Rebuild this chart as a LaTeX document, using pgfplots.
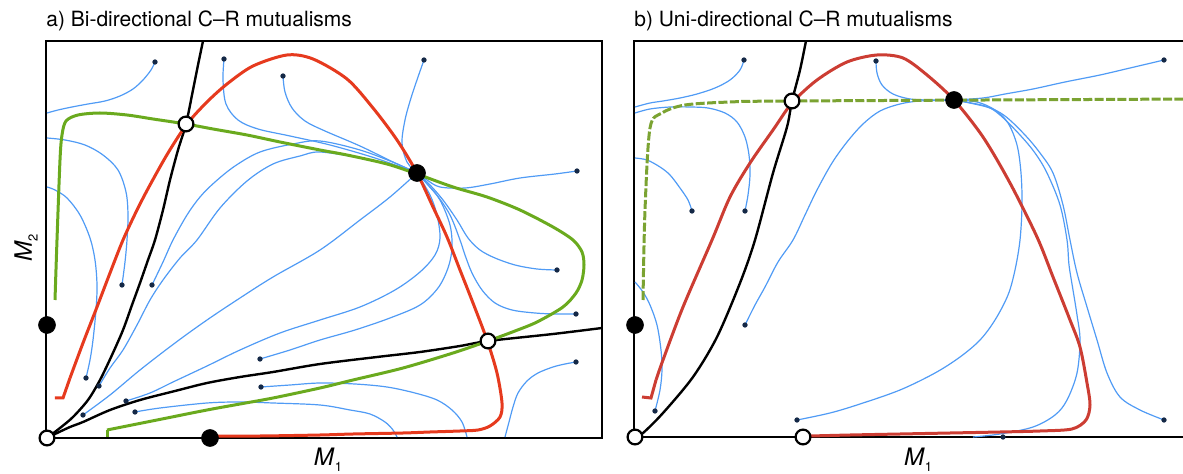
\documentclass[border=0pt]{standalone}
\usepackage{fontspec}
\setmainfont{TeX Gyre Heros}
\usepackage{pgfplots}
\pgfplotsset{compat=1.18}

\definecolor{redA}{HTML}{E63A1E}
\definecolor{redB}{HTML}{CC3D33}
\definecolor{greenA}{HTML}{6AAA1E}
\definecolor{greenB}{HTML}{7BA332}
\definecolor{trajblue}{HTML}{509BF5}
\definecolor{dotnavy}{HTML}{142846}

% both panels use image pixel coordinates (y downwards)
\pgfplotsset{
  phase/.style={scale only axis, clip=false, y dir=reverse,
    xtick=\empty, ytick=\empty, anchor=center,
    axis line style={line width=1.2pt}},
  traj/.style={trajblue, line width=0.6pt, smooth, tension=0.55, no markers},
  nullc/.style={line width=1.5pt, smooth, tension=0.5, no markers},
  sep/.style={black, line width=1.2pt, smooth, tension=0.5, no markers},
  start/.style={only marks, mark=*, mark size=1.1pt, dotnavy},
  stable/.style={only marks, mark=*, mark size=4.2pt, black},
  unstable/.style={only marks, mark=*, mark size=3.7pt,
    mark options={fill=white, draw=black, line width=1.1pt}},
}
\newcommand{\mlab}[1]{\textit{M}\raisebox{-0.45ex}{\fontsize{6.5}{7}\selectfont #1}}

\begin{document}
\begin{tikzpicture}
\path[use as bounding box] (0,0) rectangle (591.5pt,-237pt);
\clip (0,0) rectangle (591.5pt,-237pt);

% ---------------- a) bi-directional
\begin{axis}[phase, at={(162pt,-119.75pt)}, width=278pt, height=198.5pt,
  xmin=46, xmax=602, ymin=41, ymax=438]
% trajectories
\addplot[traj] coordinates {(155,62)(151,70)(143,80)(133,89)(120,96)(105,101)(88,104)(72,107)(58,110)(47,113)};
\addplot[traj] coordinates {(224,59)(223,80)(226,104)(238,120)(258,129)(290,136)(330,145)(375,158)(417,173)};
\addplot[traj] coordinates {(283,76)(285,92)(292,108)(305,121)(325,131)(360,146)(395,163)(417,173)};
\addplot[traj] coordinates {(424,60)(418,77)(411,98)(405,120)(402,143)(407,162)(417,173)};
\addplot[traj] coordinates {(577,171)(555,174)(520,178)(490,184)(465,188)(440,187)(427,180)(417,173)};
\addplot[traj] coordinates {(557,270)(537,269)(515,265)(495,258)(480,250)(468,238)(457,220)(443,200)(430,185)(417,173)};
\addplot[traj] coordinates {(576,314)(555,314)(535,313)(512,310)(495,303)(482,290)(472,273)(465,255)(460,240)(450,215)(436,194)(417,173)};
\addplot[traj] coordinates {(576,362)(565,364)(553,367)(538,373)(527,381)(518,393)(513,407)(509,422)(505,437)};
\addplot[traj] coordinates {(261,387)(290,385)(320,383)(355,384)(387,387)(415,393)(437,400)(452,410)(462,422)(467,437)};
\addplot[traj] coordinates {(135,412)(160,408)(207,403)(240,402)(273,403)(320,405)(350,410)(370,414)(385,422)(393,430)(397,437)};
\addplot[traj] coordinates {(260,359)(290,350)(320,340)(355,330)(390,318)(420,305)(438,288)(448,268)(452,248)(450,225)(440,200)(428,185)(417,173)};
\addplot[traj] coordinates {(126,401)(150,393)(173,382)(207,366)(240,350)(280,333)(320,320)(360,307)(395,290)(420,272)(435,255)(440,238)(437,215)(430,195)(417,173)};
\addplot[traj] coordinates {(83,415)(110,395)(140,370)(175,343)(207,320)(240,298)(273,277)(320,250)(360,220)(390,197)(417,173)};
\addplot[traj] coordinates {(86,378)(90,360)(93,340)(96,310)(97,285)(95,260)(90,238)(80,215)(67,198)(55,190)(47,187)};
\addplot[traj] coordinates {(122,285)(125,262)(127,240)(128,215)(126,192)(118,170)(103,155)(85,145)(65,140)(47,138)};
\addplot[traj] coordinates {(152,285)(163,262)(173,240)(187,215)(200,197)(215,182)(235,166)(260,152)(293,144)(320,141)(360,150)(395,163)(417,173)};
\addplot[traj] coordinates {(99,386)(110,368)(123,350)(137,325)(150,300)(163,280)(180,258)(197,240)(220,208)(247,181)(273,164)(300,156)(320,152)(360,158)(395,166)(417,173)};
% separatrices
\addplot[sep] coordinates {(47,438)(60,428)(73,417)(88,400)(100,380)(112,355)(123,330)(132,305)(140,283)(148,260)(155,240)(163,210)(170,180)(178,150)(186,124)(193,90)(198,65)(203,41)};
\addplot[sep] coordinates {(47,438)(55,434)(70,427)(83,422)(110,410)(140,400)(175,391)(207,383)(240,377)(273,372)(320,364)(377,357)(420,352)(460,346)(488,341)(553,334)(602,328)};
% M2 nullcline (green)
\addplot[greenA, line width=1.5pt] coordinates {(107,437)(107,430)};
\addplot[nullc, greenA] coordinates {(107,430)(157,420)(207,410)(240,404)(273,398)(320,388)(353,380)(403,368)(453,353)(488,341)(515,331)(537,322)(563,307)(576,293)(582,280)(584,265)(582,252)(573,240)(553,227)(520,210)(487,197)(453,187)(417,174)(387,164)(347,155)(320,150)(280,142)(247,135)(213,129)(186,124)(153,119)(127,115)(100,113)(78,115)(66,121)(62,135)(60,160)(57,240)(55,300)};
% M1 nullcline (red)
\addplot[redA, line width=1.5pt] coordinates {(55,398)(63,398)(70,378)};
\addplot[nullc, redA] coordinates {(70,378)(83,343)(97,307)(110,273)(123,240)(137,210)(150,185)(168,153)(187,124)(207,102)(227,84)(253,66)(287,55)(313,59)(347,79)(373,108)(397,140)(417,173)(433,207)(447,237)(460,270)(473,303)(487,340)(497,373)(502,403)(500,417)(490,426)(478,430)(460,431)(430,432)(403,433)(353,434)(320,435)(260,436)(210,436)};
% starting points
\addplot[start] coordinates {(155,62)(224,59)(283,76)(424,60)(577,171)(557,270)(576,314)(576,362)(261,387)(135,412)(260,359)(126,401)(83,415)(86,378)(122,285)(152,285)(99,386)};
% equilibria
\addplot[stable] coordinates {(47,325)(210,438)(417,173)};
\addplot[unstable] coordinates {(47,438)(186,124)(488,341)};
\end{axis}

% ---------------- b) uni-directional
\begin{axis}[phase, at={(458.5pt,-119.5pt)}, width=283pt, height=198pt,
  xmin=634, xmax=1200, ymin=41, ymax=437]
\addplot[traj] coordinates {(744,60)(740,70)(730,80)(715,88)(697,94)(680,98)(663,101)(650,103)(635,107)};
\addplot[traj] coordinates {(745,211)(748,195)(750,175)(749,155)(745,137)(737,122)(725,113)(708,108)(690,107)(670,107)(650,109)(635,113)};
\addplot[traj] coordinates {(692,211)(688,200)(680,188)(670,175)(660,167)(647,160)(635,158)};
\addplot[traj] coordinates {(876,61)(877,73)(882,85)(893,94)(910,99)(930,100)(954,100)};
\addplot[traj] coordinates {(745,325)(755,305)(765,287)(778,262)(793,240)(805,215)(817,190)(832,163)(847,142)(863,124)(880,111)(900,104)(920,101)(954,100)};
\addplot[traj] coordinates {(1164,60)(1130,68)(1100,75)(1065,82)(1033,89)(1005,94)(983,98)(954,100)};
\addplot[traj] coordinates {(797,420)(830,413)(860,404)(900,390)(935,373)(960,357)(980,340)(995,320)(1008,295)(1015,270)(1020,240)(1022,205)(1021,173)(1017,145)(1008,123)(995,110)(977,102)(954,100)};
\addplot[traj] coordinates {(973,437)(1000,434)(1033,427)(1055,415)(1067,400)(1077,373)(1080,340)(1077,315)(1073,290)(1069,265)(1067,240)(1060,205)(1047,173)(1035,153)(1020,135)(1000,115)(985,106)(954,100)};
\addplot[traj] coordinates {(1164,420)(1140,410)(1120,397)(1107,373)(1097,340)(1087,307)(1077,273)(1070,240)(1063,205)(1053,173)(1040,153)(1025,135)(1005,116)(987,107)(954,100)};
\addplot[traj] coordinates {(655,411)(660,390)(662,370)(661,350)(657,325)(650,305)(643,292)(635,282)};
\addplot[sep] coordinates {(635,437)(643,433)(663,413)(693,377)(717,337)(740,283)(755,240)(773,173)(787,127)(792,101)(800,70)(806,41)};
\addplot[nullc, greenB, dash pattern=on 4.5pt off 1.2pt] coordinates {(643,300)(645,210)(650,128)(662,113)(685,105)(730,102)(792,101)(1195,99)};
\addplot[redB, line width=1.5pt] coordinates {(642,397)(651,398)(656,380)};
\addplot[nullc, redB] coordinates {(656,380)(663,360)(683,307)(712,240)(730,197)(750,163)(773,130)(792,103)(817,80)(847,62)(877,55)(903,58)(927,75)(954,100)(983,137)(1010,183)(1037,237)(1053,277)(1070,320)(1080,347)(1087,383)(1090,405)(1086,420)(1072,429)(1040,431)(1000,432)(950,433)(900,434)(850,435)(810,436)};
\addplot[start] coordinates {(744,60)(876,61)(1164,60)(692,211)(745,211)(745,325)(655,411)(797,420)(1164,420)(1003,437)};
\addplot[stable] coordinates {(635,325)(954,100)};
\addplot[unstable] coordinates {(635,437)(803,437)(792,101)};
\end{axis}

\node[anchor=base west, inner sep=0, font=\fontsize{10.5}{12}\selectfont] at (23pt,-13.5pt) {a) Bi-directional C--R mutualisms};
\node[anchor=base west, inner sep=0, font=\fontsize{10.5}{12}\selectfont] at (317pt,-13.5pt) {b) Uni-directional C--R mutualisms};
\node[anchor=base, inner sep=0, font=\fontsize{12}{12}\selectfont] at (164pt,-233pt) {\mlab{1}};
\node[anchor=base, inner sep=0, font=\fontsize{12}{12}\selectfont] at (459pt,-233pt) {\mlab{1}};
\node[anchor=base, rotate=90, inner sep=0, font=\fontsize{12}{12}\selectfont] at (16pt,-124pt) {\mlab{2}};
\end{tikzpicture}
\end{document}
